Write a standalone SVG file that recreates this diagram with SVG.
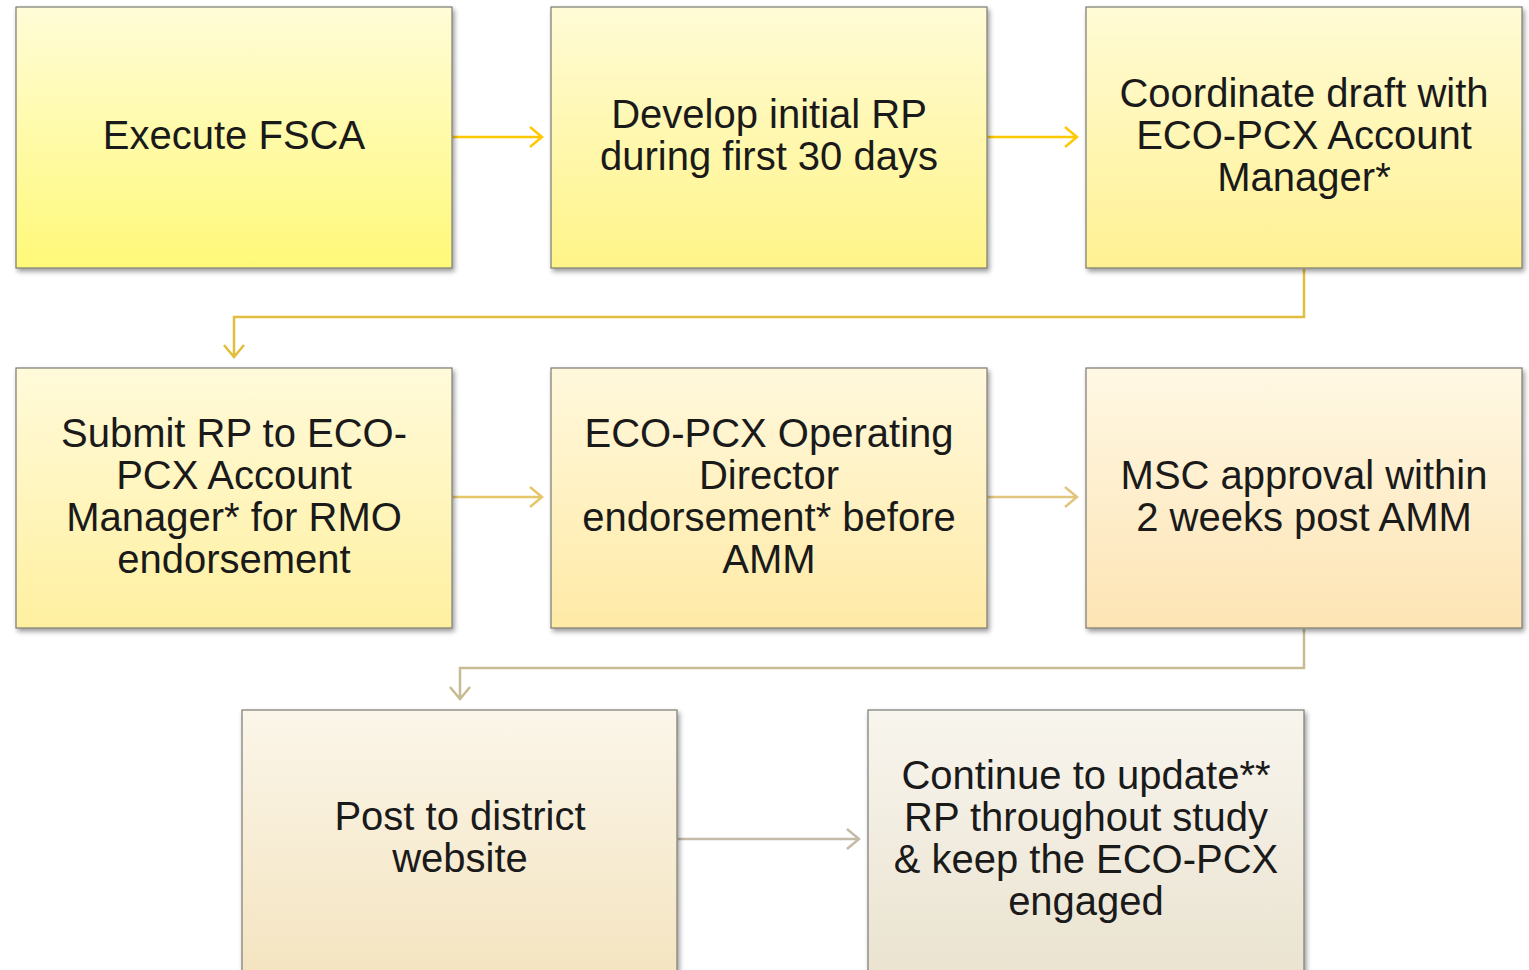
<svg xmlns="http://www.w3.org/2000/svg" width="1529" height="970" viewBox="0 0 1529 970">
<style>
.box{stroke:#7a7a72;stroke-width:1.2;filter:url(#sh)}
.t{font-family:"Liberation Sans",Arial,sans-serif;font-size:40px;fill:#1a1a1a;text-anchor:middle}
.c{fill:none;stroke-width:2.5}
</style>
<defs>
<filter id="sh" x="-5%" y="-5%" width="112%" height="115%">
<feGaussianBlur in="SourceAlpha" stdDeviation="2.5"/>
<feOffset dx="2" dy="3" result="b"/>
<feComponentTransfer><feFuncA type="linear" slope="0.4"/></feComponentTransfer>
<feMerge><feMergeNode/><feMergeNode in="SourceGraphic"/></feMerge>
</filter>
<linearGradient id="g1" x1="0" y1="0" x2="0" y2="1"><stop offset="0" stop-color="#FFFCD8"/><stop offset="1" stop-color="#FFF978"/></linearGradient>
<linearGradient id="g2" x1="0" y1="0" x2="0" y2="1"><stop offset="0" stop-color="#FFFBD6"/><stop offset="1" stop-color="#FFF488"/></linearGradient>
<linearGradient id="g3" x1="0" y1="0" x2="0" y2="1"><stop offset="0" stop-color="#FFFBD6"/><stop offset="1" stop-color="#FFF192"/></linearGradient>
<linearGradient id="g4" x1="0" y1="0" x2="0" y2="1"><stop offset="0" stop-color="#FFFADA"/><stop offset="1" stop-color="#FFF0A0"/></linearGradient>
<linearGradient id="g5" x1="0" y1="0" x2="0" y2="1"><stop offset="0" stop-color="#FFF8DC"/><stop offset="1" stop-color="#FFEAA6"/></linearGradient>
<linearGradient id="g6" x1="0" y1="0" x2="0" y2="1"><stop offset="0" stop-color="#FFF8E4"/><stop offset="1" stop-color="#FDE4B4"/></linearGradient>
<linearGradient id="g7" x1="0" y1="0" x2="0" y2="1"><stop offset="0" stop-color="#FBF6EA"/><stop offset="1" stop-color="#F4E4C0"/></linearGradient>
<linearGradient id="g8" x1="0" y1="0" x2="0" y2="1"><stop offset="0" stop-color="#F8F5EE"/><stop offset="1" stop-color="#EAE3D0"/></linearGradient>
</defs>
<rect width="1529" height="970" fill="#ffffff"/>
<g id="connectors">
<path class="c" stroke="#FFC800" d="M453 137H542M530 127L542 137L530 147"/>
<path class="c" stroke="#FFC800" d="M988 137H1077M1065 127L1077 137L1065 147"/>
<path class="c" stroke="#E2BE3E" d="M1304 269V317H234V357M224 345L234 357L244 345"/>
<path class="c" stroke="#E6C768" d="M453 497H542M530 487L542 497L530 507"/>
<path class="c" stroke="#E2C680" d="M988 497H1077M1065 487L1077 497L1065 507"/>
<path class="c" stroke="#C8BA92" d="M1304 629V668H460V699M450 687L460 699L470 687"/>
<path class="c" stroke="#C4BAA8" d="M678 839H859M847 829L859 839L847 849"/>
</g>
<g id="n1"><rect class="box" x="16" y="7" width="436" height="261" fill="url(#g1)"/>
<text class="t" x="234" y="149">Execute FSCA</text></g>
<g id="n2"><rect class="box" x="551" y="7" width="436" height="261" fill="url(#g2)"/>
<text class="t" x="769" y="128">Develop initial RP</text><text class="t" x="769" y="170">during first 30 days</text></g>
<g id="n3"><rect class="box" x="1086" y="7" width="436" height="261" fill="url(#g3)"/>
<text class="t" x="1304" y="107">Coordinate draft with</text><text class="t" x="1304" y="149">ECO-PCX Account</text><text class="t" x="1304" y="191">Manager*</text></g>
<g id="n4"><rect class="box" x="16" y="368" width="436" height="260" fill="url(#g4)"/>
<text class="t" x="234" y="447">Submit RP to ECO-</text><text class="t" x="234" y="489">PCX Account</text><text class="t" x="234" y="531">Manager* for RMO</text><text class="t" x="234" y="573">endorsement</text></g>
<g id="n5"><rect class="box" x="551" y="368" width="436" height="260" fill="url(#g5)"/>
<text class="t" x="769" y="447">ECO-PCX Operating</text><text class="t" x="769" y="489">Director</text><text class="t" x="769" y="531">endorsement* before</text><text class="t" x="769" y="573">AMM</text></g>
<g id="n6"><rect class="box" x="1086" y="368" width="436" height="260" fill="url(#g6)"/>
<text class="t" x="1304" y="489">MSC approval within</text><text class="t" x="1304" y="531">2 weeks post AMM</text></g>
<g id="n7"><rect class="box" x="242" y="710" width="435" height="264" fill="url(#g7)"/>
<text class="t" x="460" y="830">Post to district</text><text class="t" x="460" y="872">website</text></g>
<g id="n8"><rect class="box" x="868" y="710" width="436" height="264" fill="url(#g8)"/>
<text class="t" x="1086" y="789">Continue to update**</text><text class="t" x="1086" y="831">RP throughout study</text><text class="t" x="1086" y="873">&amp; keep the ECO-PCX</text><text class="t" x="1086" y="915">engaged</text></g>
</svg>
